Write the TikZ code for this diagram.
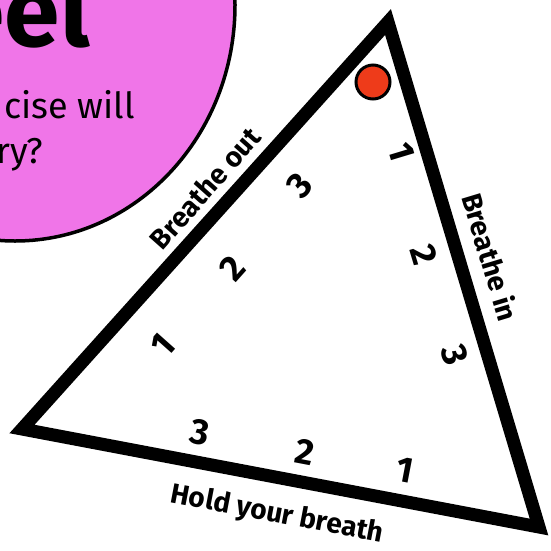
\documentclass[tikz,border=0pt]{standalone}
\usepackage{fontspec}
\setmainfont{Fira Sans}
\usepackage{xcolor}
\usetikzlibrary{calc}
\definecolor{bubblepink}{RGB}{240,117,232}
\definecolor{dotred}{RGB}{238,59,26}

\tikzset{
  sidelabel/.style={font=\bfseries\fontsize{28}{28}\selectfont,inner sep=0pt},
  countnum/.style={font=\bfseries\fontsize{36}{36}\selectfont,inner sep=0pt},
  bubbletext/.style={font=\fontsize{36}{36}\selectfont,inner sep=0pt,anchor=base west},
}

\begin{document}
\begin{tikzpicture}[x=1pt,y=-1pt]
  \useasboundingbox (0,0) rectangle (551,550);

  % pink bubble, cut by the page edge
  \begin{scope}
    \clip (0,0) rectangle (551,550);
    \draw[line width=3.5pt,fill=bubblepink] (15,5) ellipse [x radius=220,y radius=236];
    \node[font=\bfseries\fontsize{100}{100}\selectfont,inner sep=0pt,anchor=base east]
      (feel) at (90,46) {eel};
    \node[bubbletext] (askline) at (4,118) {cise will};
    \node[bubbletext] (askend) at (-4,163) {ry?};
  \end{scope}

  \coordinate (L) at (22,429);
  \coordinate (T) at (388,22);
  \coordinate (R) at (539,527);
  \draw[line width=13pt,line join=miter] (L) -- (T) -- (R) -- cycle;

  \draw[line width=3pt,fill=dotred] (373,82) circle (17);

  \node[sidelabel,rotate=48.3] (out) at (205,188) {Breathe out};
  \node[sidelabel,rotate=-73.2] (in) at (491,257) {Breathe in};
  \node[sidelabel,rotate=-10.8] (hold) at (277,515) {Hold your breath};

  \node[countnum,rotate=48.3] (o1) at (163,345) {1};
  \node[countnum,rotate=48.3] (o2) at (232,268) {2};
  \node[countnum,rotate=48.3] (o3) at (300,185) {3};

  \node[countnum,rotate=-73.2] (i1) at (402,152) {1};
  \node[countnum,rotate=-73.2] (i2) at (424,255) {2};
  \node[countnum,rotate=-73.2] (i3) at (455,355) {3};

  \node[countnum,rotate=-10.8] (h3) at (200,432) {3};
  \node[countnum,rotate=-10.8] (h2) at (305,452) {2};
  \node[countnum,rotate=-10.8] (h1) at (405,470) {1};
\end{tikzpicture}
\end{document}
